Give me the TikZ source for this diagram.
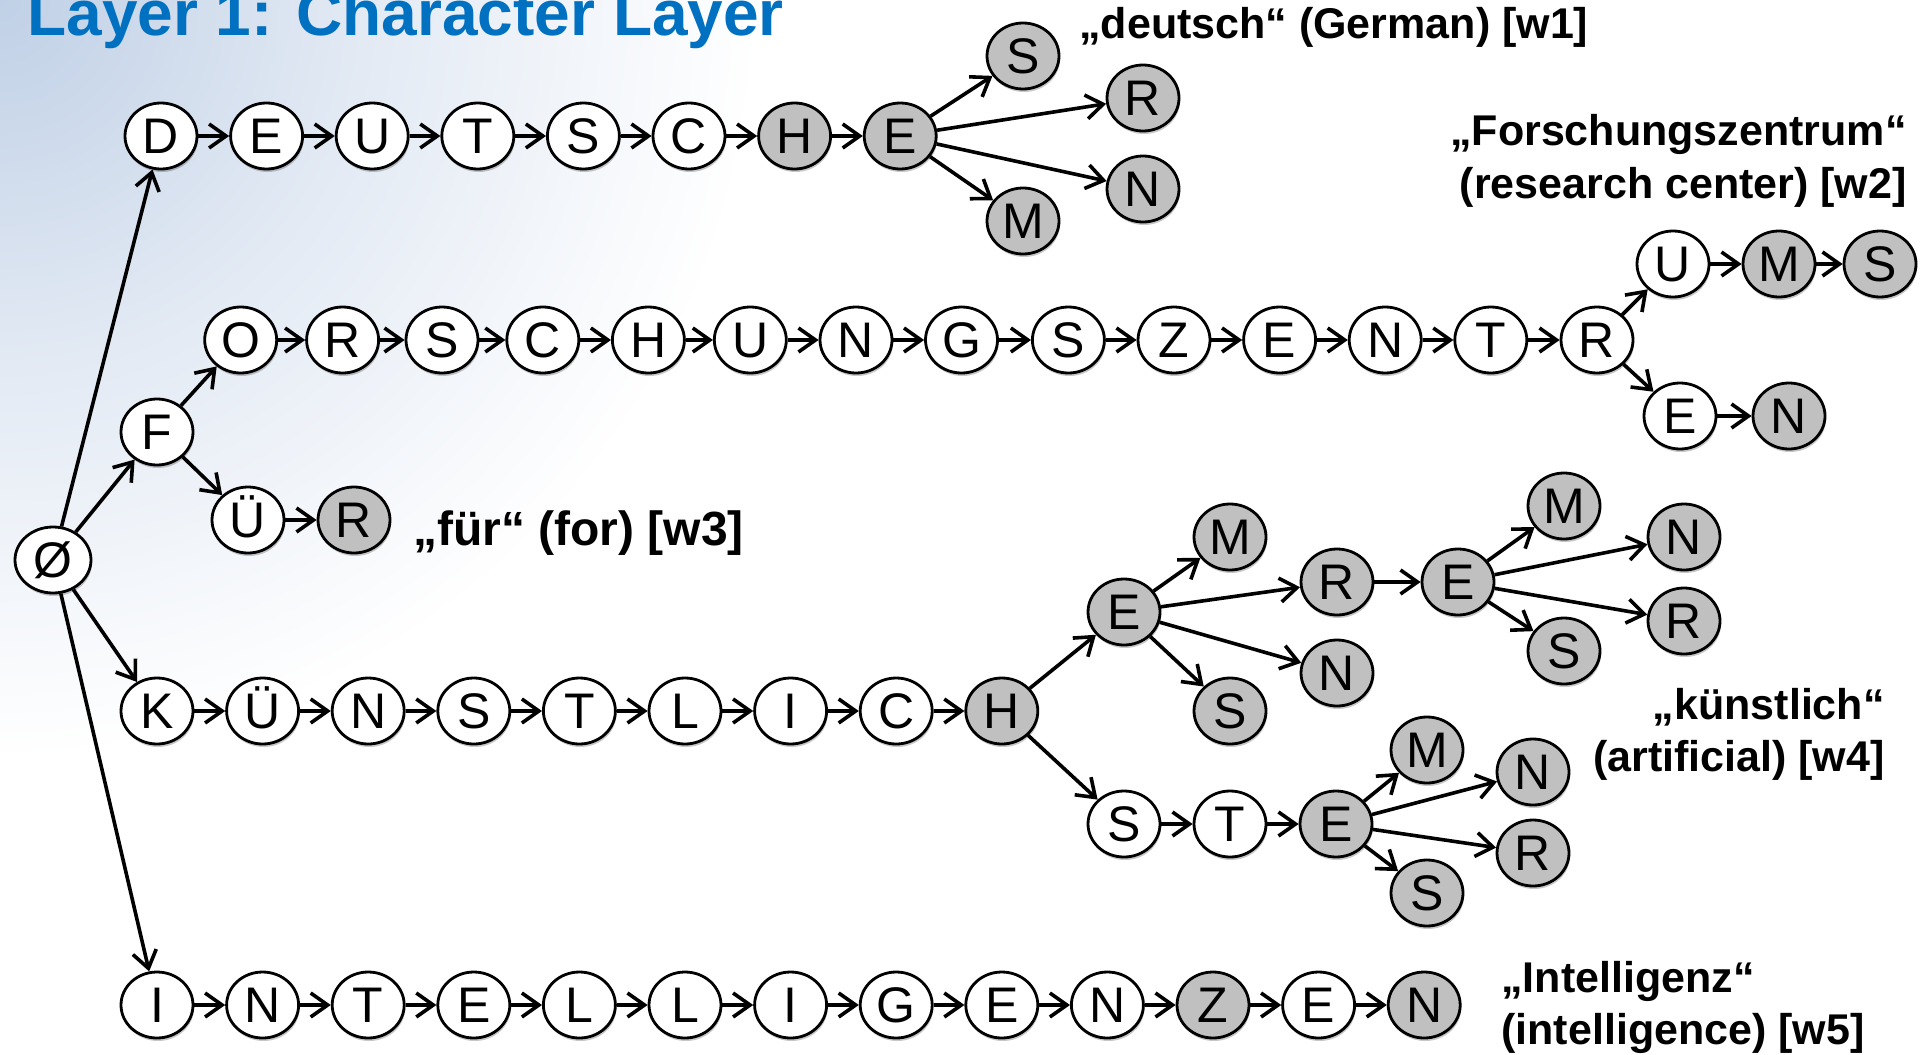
\documentclass[tikz,border=0pt]{standalone}
\usepackage{fontspec}
\setmainfont{Liberation Sans}
\usetikzlibrary{arrows.meta,shadows,shapes.geometric}
\definecolor{titleblue}{RGB}{0,112,192}
\definecolor{nodegray}{RGB}{192,192,192}
\definecolor{bgblue}{RGB}{192,208,230}
\pgfdeclareradialshading{bgshade}{\pgfpoint{0bp}{0bp}}{color(0bp)=(bgblue); color(12bp)=(bgblue!45!white); color(25bp)=(white); color(50bp)=(white)}
\begin{document}
\begin{tikzpicture}[x=0.5pt,y=-0.5pt,
  wn/.style={ellipse, draw=black, line width=1.4pt, fill=white, inner sep=0pt,
    minimum width=36pt, minimum height=33pt, text height=17.9pt, text depth=0pt,
    font=\fontsize{25}{25}\selectfont,
    drop shadow={shadow xshift=0.5pt, shadow yshift=-1.5pt, opacity=0.22, fill=black}},
  gn/.style={wn, fill=nodegray},
  arr/.style={-{Straight Barb[length=8.5pt,width=12pt]}, line width=1.8pt},
  lbl/.style={inner sep=0pt, font=\bfseries\fontsize{21.5}{26}\selectfont}
]
% background
\useasboundingbox (0,0) rectangle (1926,1054);
\begin{scope}
  \clip (0,0) rectangle (1926,1054);
  \fill[white] (0,0) rectangle (1926,1054);
  \shade[shading=bgshade] (0,0) circle (760);
\end{scope}

% title
\node[anchor=base west, inner sep=0pt, text=titleblue, font=\bfseries\fontsize{32}{32}\selectfont] (title) at (27,36) {Layer 1: Character Layer};

% root
\node[wn, minimum width=38pt] (r) at (53,560) {Ø};

% deutsch
\node[wn] (a1) at (161,136) {D};
\node[wn] (a2) at (266.6,136) {E};
\node[wn] (a3) at (372.2,136) {U};
\node[wn] (a4) at (477.8,136) {T};
\node[wn] (a5) at (583.4,136) {S};
\node[wn] (a6) at (689,136) {C};
\node[gn] (a7) at (794.6,136) {H};
\node[gn] (a8) at (900.2,136) {E};
\node[gn] (a9) at (1023,56) {S};
\node[gn] (a10) at (1143,98) {R};
\node[gn] (a11) at (1143,189) {N};
\node[gn] (a12) at (1023,221) {M};

% F branch
\node[wn] (f0) at (157,432) {F};
\node[wn] (b1) at (240.7,340) {O};
\node[wn] (b2) at (342.6,340) {R};
\node[wn] (b3) at (442,340) {S};
\node[wn] (b4) at (542.8,340) {C};
\node[wn] (b5) at (648.4,340) {H};
\node[wn] (b6) at (750.3,340) {U};
\node[wn] (b7) at (856,340) {N};
\node[wn] (b8) at (961.5,340) {G};
\node[wn] (b9) at (1068.4,340) {S};
\node[wn] (b10) at (1174,340) {Z};
\node[wn] (b11) at (1279.6,340) {E};
\node[wn] (b12) at (1385.2,340) {N};
\node[wn] (b13) at (1490.8,340) {T};
\node[wn] (b14) at (1597,340) {R};
\node[wn] (b15) at (1673,264) {U};
\node[gn] (b16) at (1779,264) {M};
\node[gn] (b17) at (1880,264) {S};
\node[wn] (b18) at (1680,416) {E};
\node[gn] (b19) at (1789,416) {N};

\node[wn] (c1) at (248,520) {Ü};
\node[gn] (c2) at (354,520) {R};

% K branch
\node[wn] (k1) at (157,711) {K};
\node[wn] (k2) at (262.6,711) {Ü};
\node[wn] (k3) at (368.2,711) {N};
\node[wn] (k4) at (473.8,711) {S};
\node[wn] (k5) at (579.4,711) {T};
\node[wn] (k6) at (685,711) {L};
\node[wn] (k7) at (790.6,711) {I};
\node[wn] (k8) at (896.2,711) {C};
\node[gn] (k9) at (1001.8,711) {H};
\node[gn] (k10) at (1124,612) {E};
\node[gn] (k11) at (1230,537) {M};
\node[gn] (k12) at (1230,711) {S};
\node[gn] (k13) at (1337,582) {R};
\node[gn] (k14) at (1337,673) {N};
\node[gn] (k15) at (1458,582) {E};
\node[gn] (k16) at (1564,506) {M};
\node[gn] (k17) at (1684,537) {N};
\node[gn] (k18) at (1684,621) {R};
\node[gn] (k19) at (1564,651) {S};
\node[wn] (k20) at (1124,824) {S};
\node[wn] (k21) at (1230,824) {T};
\node[gn] (k22) at (1336,824) {E};
\node[gn] (k23) at (1427,750) {M};
\node[gn] (k24) at (1533,772) {N};
\node[gn] (k25) at (1533,853) {R};
\node[gn] (k26) at (1427,893) {S};

% I branch
\node[wn] (i1) at (157,1005) {I};
\node[wn] (i2) at (262.6,1005) {N};
\node[wn] (i3) at (368.2,1005) {T};
\node[wn] (i4) at (473.8,1005) {E};
\node[wn] (i5) at (579.4,1005) {L};
\node[wn] (i6) at (685,1005) {L};
\node[wn] (i7) at (790.6,1005) {I};
\node[wn] (i8) at (896.2,1005) {G};
\node[wn] (i9) at (1001.8,1005) {E};
\node[wn] (i10) at (1107.4,1005) {N};
\node[gn] (i11) at (1213,1005) {Z};
\node[wn] (i12) at (1318.6,1005) {E};
\node[gn] (i13) at (1424.2,1005) {N};

% edges
\foreach \p/\q in {r/a1,a1/a2,a2/a3,a3/a4,a4/a5,a5/a6,a6/a7,a7/a8,a8/a9,a8/a10,a8/a11,a8/a12,
  r/f0,f0/b1,b1/b2,b2/b3,b3/b4,b4/b5,b5/b6,b6/b7,b7/b8,b8/b9,b9/b10,b10/b11,b11/b12,b12/b13,b13/b14,
  b14/b15,b15/b16,b16/b17,b14/b18,b18/b19,f0/c1,c1/c2,
  r/k1,k1/k2,k2/k3,k3/k4,k4/k5,k5/k6,k6/k7,k7/k8,k8/k9,k9/k10,k10/k11,k10/k12,k10/k13,k10/k14,
  k13/k15,k15/k16,k15/k17,k15/k18,k15/k19,k9/k20,k20/k21,k21/k22,k22/k23,k22/k24,k22/k25,k22/k26,
  r/i1,i1/i2,i2/i3,i3/i4,i4/i5,i5/i6,i6/i7,i7/i8,i8/i9,i9/i10,i10/i11,i11/i12,i12/i13}
  \draw[arr] (\p) -- (\q);

% labels
\node[lbl, anchor=base west] (w1) at (1079,39) {„deutsch“ (German) [w1]};
\node[lbl, anchor=base east, align=right] (w2) at (1907,198) {„Forschungszentrum“\\(research center) [w2]};
\node[lbl, anchor=base west, font=\bfseries\fontsize{24}{28}\selectfont] (w3) at (413,545) {„für“ (for) [w3]};
\node[lbl, anchor=base east, align=right] (w4) at (1885,771) {„künstlich“\\(artificial) [w4]};
\node[lbl, anchor=base west, align=left] (w5) at (1501,1044) {„Intelligenz“\\(intelligence) [w5]};
\end{tikzpicture}
\end{document}
